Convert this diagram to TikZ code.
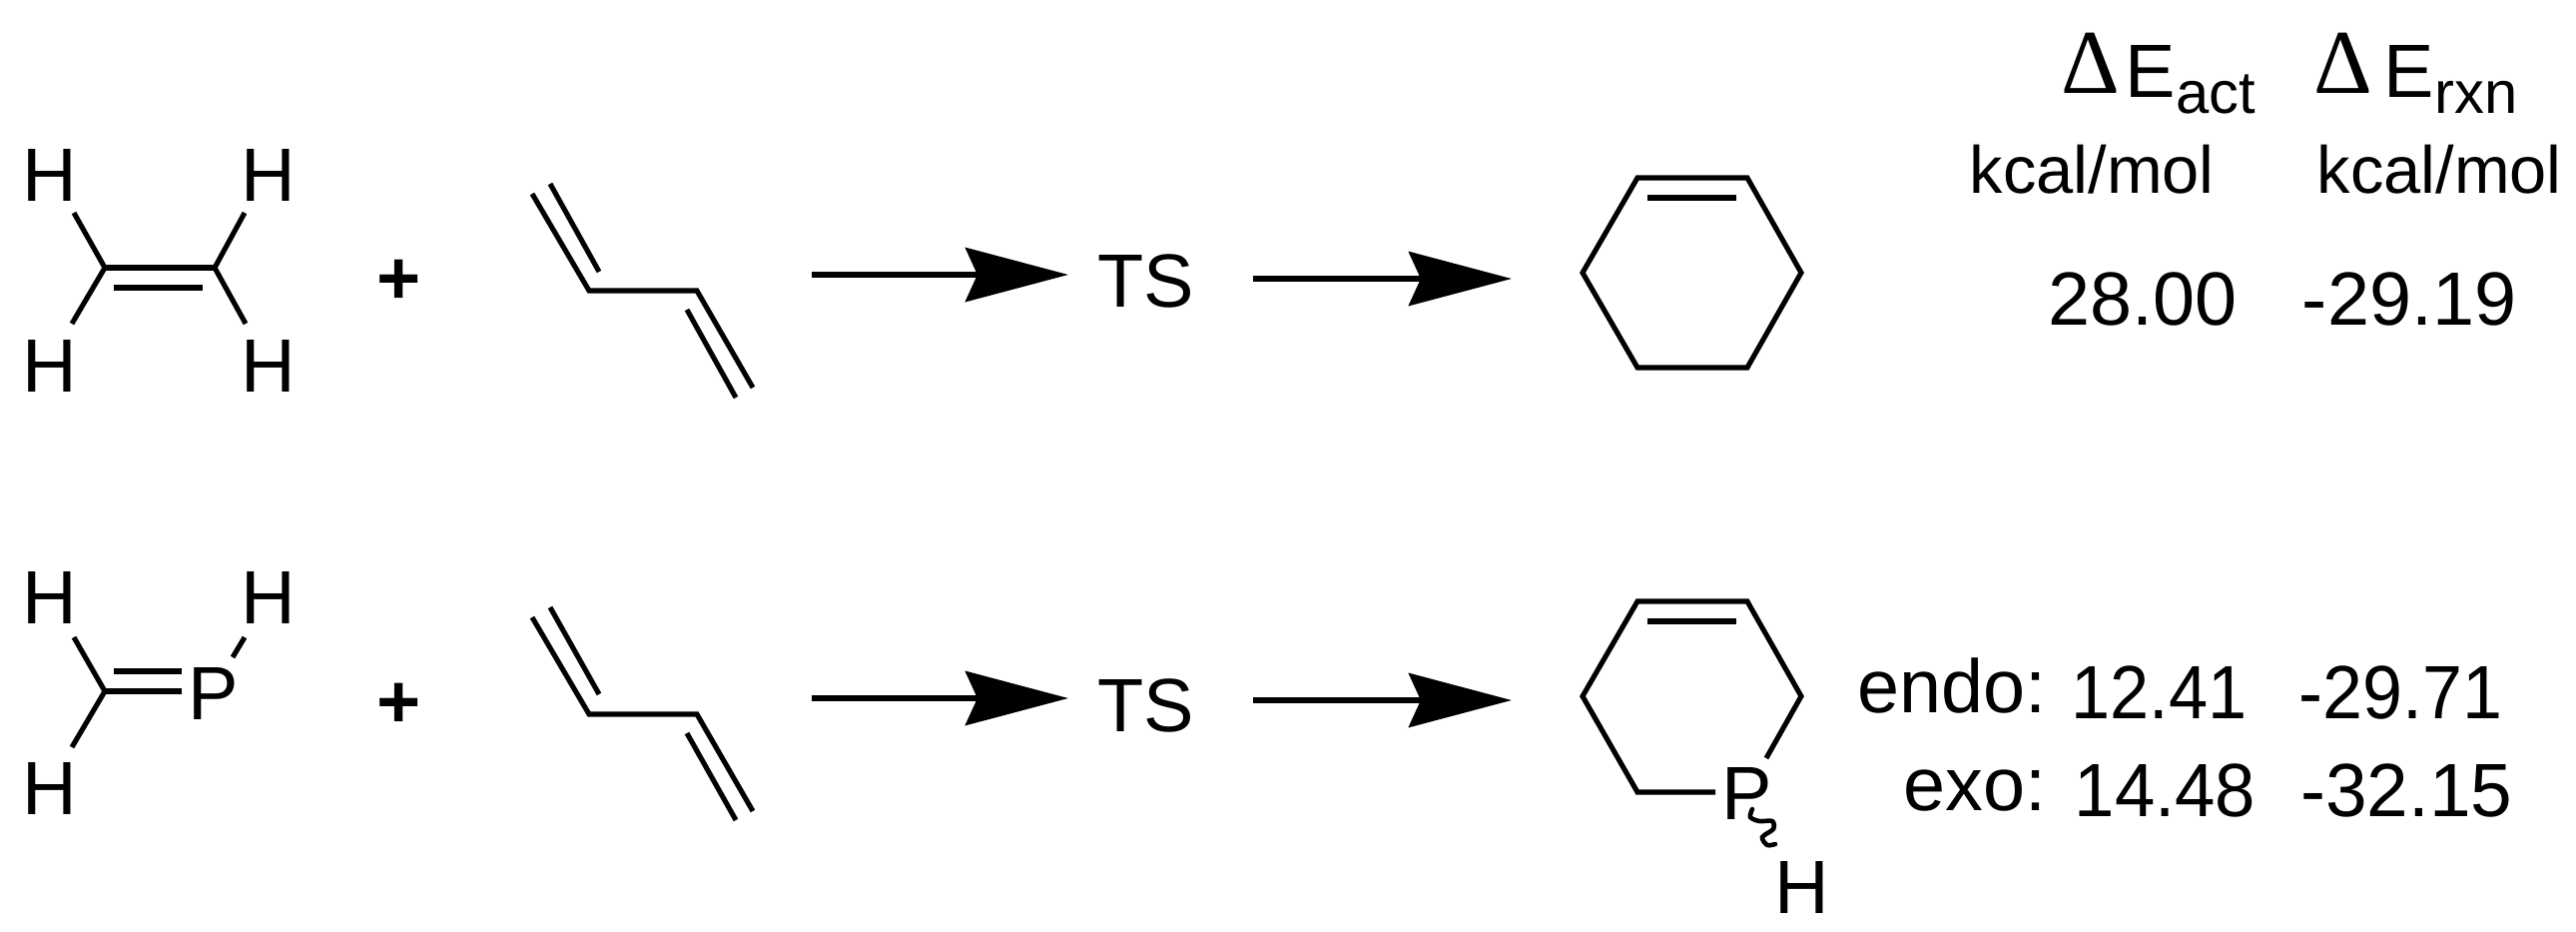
\documentclass[tikz,border=0pt]{standalone}
\usepackage{fontspec}
\setmainfont{Liberation Sans}
\newfontfamily\deltafont{Liberation Serif}
\usepackage{tikz}
\usetikzlibrary{positioning, arrows.meta}

\tikzset{
  bond/.style={line width=1.45pt, line join=miter},
  atom/.style={font=\fontsize{21.5}{24}\selectfont, inner sep=0pt, anchor=center},
  value/.style={font=\fontsize{21.5}{24}\selectfont, inner sep=0pt},
  squeezed/.style={xscale=#1, transform shape},
  unit/.style={font=\fontsize{19}{22}\selectfont, inner sep=0pt, anchor=base west},
  deltasym/.style={font=\deltafont\fontsize{26}{28}\selectfont, inner sep=0pt, anchor=base west},
  subtext/.style={font=\fontsize{17}{20}\selectfont, inner sep=0pt, anchor=base west},
  rxnarrow/.style={line width=1.7pt, -{Stealth[length=1.03cm, width=0.54cm, inset=0.12cm]}},
  every picture/.style={x=0.01cm, y=-0.01cm}
}

\begin{document}
\begin{tikzpicture}
\useasboundingbox (0,0) rectangle (2580,933);

% Ethylene
\node[atom] (ht1) at (50,175) {H};
\node[atom] (ht2) at (269,175) {H};
\node[atom] (hb1) at (50,366) {H};
\node[atom] (hb2) at (269,366) {H};
\coordinate (c1) at (105,268);
\coordinate (c2) at (215,268);
\draw[bond] (74,213) -- (c1) -- (72,324);
\draw[bond] (245,213) -- (c2) -- (246,324);
\draw[bond] (c1) -- (c2);
\draw[bond] (114,288) -- (203,288);
\node[atom] (plus1) at (400,282) {\textbf{+}};

% Butadiene, top
\draw[bond] (533,194) -- (590,291) -- (698,291) -- (754,388);
\draw[bond] (551,184) -- (600,272);
\draw[bond] (688,310) -- (737,398);

% Top arrows
\node[atom] (ts1) at (1148,281) {TS};
\coordinate (a1) at (813,275);
\coordinate (a2) at (1070,275);
\coordinate (a3) at (1255,279);
\coordinate (a4) at (1514,279);
\draw[rxnarrow] (a1) -- (a2);
\draw[rxnarrow] (a3) -- (a4);

% Cyclohexene
\draw[bond] (1640,178) -- (1585,273) -- (1640,368) -- (1750,368) -- (1804,273) -- (1750,178) -- cycle;
\draw[bond] (1650,198) -- (1739,198);

% Table head
\node[deltasym] (d1) at (2064,93) {Δ};
\node[atom, anchor=base west] (e1) at (2128,97) {E};
\node[subtext] (act) at (2179,113) {act};
\node[deltasym] (d2) at (2317,93) {Δ};
\node[atom, anchor=base west] (e2) at (2387,97) {E};
\node[subtext] (rxn) at (2438,113) {rxn};
\node[unit] (u1) at (1972,193) {kcal/mol};
\node[unit] (u2) at (2320,193) {kcal/mol};
\node[value, anchor=base east] (v1) at (2241,325) {28.00};
\node[value, anchor=base east] (v2) at (2521,325) {-29.19};

% Phosphaethylene
\node[atom] (ht3) at (50,598) {H};
\node[atom] (ht4) at (269,598) {H};
\node[atom] (hb3) at (50,789) {H};
\node[atom] (p1) at (214,694) {P};
\coordinate (c3) at (105,692);
\draw[bond] (74,638) -- (c3) -- (72,748);
\draw[bond] (c3) -- (182,692);
\draw[bond] (114,672) -- (182,672);
\draw[bond] (245,638) -- (233,658);
\node[atom] (plus2) at (400,706) {\textbf{+}};

% Butadiene, bottom
\draw[bond] (533,618) -- (590,715) -- (698,715) -- (754,812);
\draw[bond] (551,608) -- (600,695);
\draw[bond] (688,734) -- (737,821);

% Bottom arrows
\node[atom] (ts2) at (1148,706) {TS};
\coordinate (a5) at (813,699);
\coordinate (a6) at (1070,699);
\coordinate (a7) at (1255,701);
\coordinate (a8) at (1514,701);
\draw[rxnarrow] (a5) -- (a6);
\draw[rxnarrow] (a7) -- (a8);

% Phosphinine ring
\node[atom] (p2) at (1750,794) {P};
\node[atom] (h5) at (1805,888) {H};
\draw[bond] (1718,793) -- (1640,793) -- (1585,697) -- (1640,602) -- (1750,602) -- (1804,697) -- (1769,759);
\draw[bond] (1650,622) -- (1739,622);
\draw[line width=1.3pt, line cap=round] plot[smooth] coordinates {(1755,810) (1753,818) (1762,822) (1775,822) (1776,830) (1765,838) (1770,846) (1778,845)};

% Table rows
\node[value, anchor=base east] (en) at (2050,713) {endo:};
\node[value, squeezed=0.93, anchor=base east] (v3) at (2251,719) {12.41};
\node[value, squeezed=0.95, anchor=base east] (v4) at (2507,719) {-29.71};
\node[value, anchor=base east] (ex) at (2050,811) {exo:};
\node[value, squeezed=0.96, anchor=base east] (v5) at (2260,817) {14.48};
\node[value, squeezed=0.99, anchor=base east] (v6) at (2517,817) {-32.15};
\end{tikzpicture}
\end{document}
